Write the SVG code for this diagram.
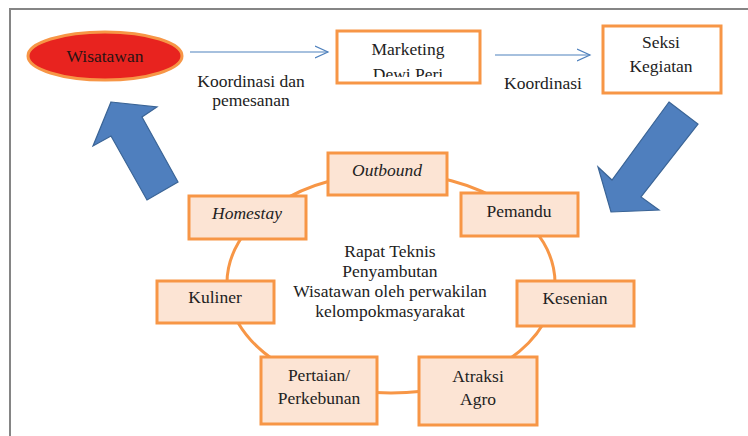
<svg xmlns="http://www.w3.org/2000/svg" width="748" height="436" viewBox="0 0 748 436" font-family="'Liberation Serif', 'Times New Roman', 'DejaVu Serif', serif">
<style>
text{font-family:'Liberation Serif','Times New Roman','DejaVu Serif',serif;font-size:17.5px;fill:#222;text-anchor:middle}
.it{font-style:italic}
.box{fill:#fce4d4;stroke:#f79646;stroke-width:3}
.wbox{fill:#fff;stroke:#f79646;stroke-width:3}
.thin{stroke:#4f81bd;stroke-width:1.2;fill:none}
.big{fill:#4f7fbe;stroke:#3a6496;stroke-width:1.2;stroke-linejoin:miter}
</style>
<defs>
<marker id="chev" markerWidth="16" markerHeight="14" refX="13" refY="7" orient="auto" markerUnits="userSpaceOnUse">
<polyline points="0,1 13,7 0,13" fill="none" stroke="#4f81bd" stroke-width="1.2"/>
</marker>
<clipPath id="mclip"><rect x="337" y="31" width="143" height="46"/></clipPath>
</defs>
<rect x="0" y="0" width="748" height="436" fill="#fff"/>
<path d="M10,436 V9 H748" fill="none" stroke="#858585" stroke-width="2"/>
<g id="connectors">
<ellipse cx="391" cy="283" rx="164" ry="110" fill="none" stroke="#f79646" stroke-width="3"/>
<line class="thin" x1="190" y1="52" x2="328" y2="52" marker-end="url(#chev)"/>
<line class="thin" x1="495" y1="55" x2="590" y2="55" marker-end="url(#chev)"/>
<polygon class="big" points="111,102 157,107 142,117 178,182 147,200 111,136 93,146"/>
<polygon class="big" points="669,102 698,124 641,197 659,210 611,212 598,167 612,180"/>
</g>
<g id="label-koordinasi-dan">
<text x="251" y="87">Koordinasi dan</text>
<text x="251" y="106">pemesanan</text>
</g>
<g id="label-koordinasi"><text x="543" y="89">Koordinasi</text></g>
<g id="wisatawan">
<ellipse cx="105" cy="56" rx="77" ry="24" fill="#e8231f" stroke="#f79646" stroke-width="3"/>
<text x="105" y="62" style="fill:#2a1414">Wisatawan</text>
</g>
<g id="marketing">
<rect class="wbox" x="337" y="31" width="143" height="52"/>
<text x="408" y="55">Marketing</text>
<text x="408" y="80" clip-path="url(#mclip)">Dewi Peri</text>
</g>
<g id="seksi">
<rect class="wbox" x="603" y="26" width="118" height="67"/>
<text x="661" y="48">Seksi</text>
<text x="661" y="72">Kegiatan</text>
</g>
<g id="outbound">
<rect class="box" x="328" y="153" width="119" height="42"/>
<text class="it" x="387" y="176">Outbound</text>
</g>
<g id="homestay">
<rect class="box" x="189" y="196" width="117" height="43"/>
<text class="it" x="247" y="219">Homestay</text>
</g>
<g id="pemandu">
<rect class="box" x="461" y="193" width="117" height="43"/>
<text x="519" y="217">Pemandu</text>
</g>
<g id="kuliner">
<rect class="box" x="157" y="281" width="117" height="42"/>
<text x="215" y="303">Kuliner</text>
</g>
<g id="kesenian">
<rect class="box" x="517" y="281" width="117" height="45"/>
<text x="575" y="304">Kesenian</text>
</g>
<g id="pertaian">
<rect class="box" x="261" y="357" width="116" height="67"/>
<text x="319" y="381">Pertaian/</text>
<text x="319" y="404">Perkebunan</text>
</g>
<g id="atraksi">
<rect class="box" x="419" y="357" width="118" height="68"/>
<text x="478" y="382">Atraksi</text>
<text x="478" y="405">Agro</text>
</g>
<g id="rapat">
<text x="390" y="257">Rapat Teknis</text>
<text x="390" y="277">Penyambutan</text>
<text x="390" y="297">Wisatawan oleh perwakilan</text>
<text x="390" y="317">kelompokmasyarakat</text>
</g>
</svg>
